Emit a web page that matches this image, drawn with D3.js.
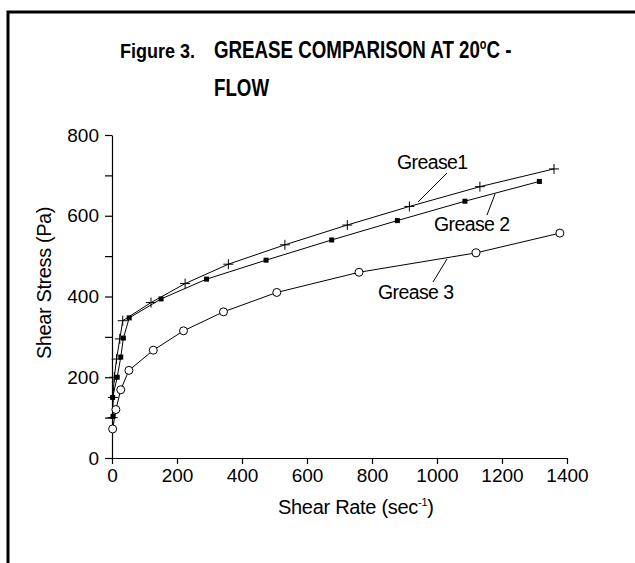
<!DOCTYPE html>
<html>
<head>
<meta charset="utf-8">
<script src="https://cdn.jsdelivr.net/npm/d3@7"></script>
<style>
  body { margin: 0; background: #fff; }
  text { font-family: Arial, "Liberation Sans", sans-serif; fill: #000; }
</style>
</head>
<body>
<div id="chart"></div>
<script>
// Shear rate (sec^-1) / shear stress (Pa)
const grease1Rate   = [2, 3, 7, 14, 24, 33, 120, 225, 358, 532, 724, 915, 1132, 1360];
const grease1Stress = [100, 150, 200, 245, 295, 340, 385, 432, 480, 528, 577, 623, 672, 716];
const grease2Rate   = [3, 2, 16, 27, 35, 53, 151, 291, 474, 676, 878, 1086, 1315];
const grease2Stress = [103, 150, 200, 250, 297, 347, 394, 443, 490, 540, 588, 636, 685];
const grease3Rate   = [2, 12, 27, 52, 127, 220, 343, 507, 760, 1120, 1378];
const grease3Stress = [72, 120, 169, 217, 267, 315, 362, 410, 460, 508, 557];

const xTicks = [0, 200, 400, 600, 800, 1000, 1200, 1400];
const yTicks = [0, 100, 200, 300, 400, 500, 600, 700, 800];
const yLabels = [0, 200, 400, 600, 800];

const W = 635, H = 563;
const svg = d3.select('#chart').append('svg')
    .attr('width', W)
    .attr('height', H);

// frame (only top and left edges are visible)
svg.append('path')
    .attr('d', `M8,${H} V12 H${W}`)
    .attr('fill', 'none')
    .attr('stroke', '#000')
    .attr('stroke-width', 3);

const x = d3.scaleLinear().domain([0, 1400]).range([112, 567]);
const y = d3.scaleLinear().domain([0, 800]).range([458, 135]);

// title - the original uses a condensed bold face, so squeeze it horizontally
svg.append('text')
    .attr('transform', 'translate(120,58) scale(0.9,1)')
    .style('font-weight', 'bold')
    .style('font-size', '20px')
    .text('Figure 3.');
const title = svg.append('text')
    .attr('transform', 'translate(214,58) scale(0.78,1)')
    .style('font-weight', 'bold')
    .style('font-size', '24px');
title.append('tspan').text('GREASE COMPARISON AT 20');
title.append('tspan')
    .style('font-size', '14px')
    .attr('dy', -9)
    .text('o');
title.append('tspan')
    .attr('dy', 9)
    .text('C -');
svg.append('text')
    .attr('transform', 'translate(214,96) scale(0.78,1)')
    .style('font-weight', 'bold')
    .style('font-size', '24px')
    .text('FLOW');

// axes
const xAxis = svg.append('g')
    .attr('transform', `translate(0,${y(0)})`)
    .call(d3.axisBottom(x).tickValues(xTicks).tickSize(6).tickPadding(5).tickSizeOuter(0)
        .tickFormat(d3.format('d')));
const yAxis = svg.append('g')
    .attr('transform', `translate(${x(0)},0)`)
    .call(d3.axisLeft(y).tickValues(yTicks).tickSize(7).tickPadding(6).tickSizeOuter(0)
        .tickFormat(d => yLabels.includes(d) ? d : ''));
[xAxis, yAxis].forEach(a => {
    a.select('.domain').attr('stroke', '#000').attr('stroke-width', 1.2);
    a.selectAll('.tick line').attr('stroke', '#000').attr('stroke-width', 1.2);
    a.selectAll('.tick text')
        .style('font-size', '19px')
        .style('font-family', 'Arial, "Liberation Sans", sans-serif')
        .attr('fill', '#000');
});

// axis titles
const xTitle = svg.append('text')
    .attr('x', 278)
    .attr('y', 514)
    .style('font-size', '20px')
    .style('letter-spacing', '-0.3px');
xTitle.append('tspan').text('Shear Rate (sec');
xTitle.append('tspan').attr('dy', -8).style('font-size', '11px').text('-1');
xTitle.append('tspan').attr('dy', 8).text(')');

svg.append('text')
    .attr('transform', 'translate(51,283) rotate(-90)')
    .attr('text-anchor', 'middle')
    .style('font-size', '20px')
    .style('letter-spacing', '-0.4px')
    .text('Shear Stress (Pa)');

// series
const series = [
    { rate: grease1Rate, stress: grease1Stress, marker: 'plus' },
    { rate: grease2Rate, stress: grease2Stress, marker: 'square' },
    { rate: grease3Rate, stress: grease3Stress, marker: 'circle' }
];

const line = d3.line()
    .x(d => x(d[0]))
    .y(d => y(d[1]));

series.forEach(s => {
    const pts = s.rate.map((r, i) => [r, s.stress[i]]);
    svg.append('path')
        .datum(pts)
        .attr('d', line)
        .attr('fill', 'none')
        .attr('stroke', '#000')
        .attr('stroke-width', 1);

    const g = svg.append('g');
    if (s.marker === 'plus') {
        g.selectAll('path')
            .data(pts)
            .join('path')
            .attr('d', d => {
                const cx = x(d[0]), cy = y(d[1]);
                return `M${cx - 5},${cy}H${cx + 5}M${cx},${cy - 5}V${cy + 5}`;
            })
            .attr('stroke', '#000')
            .attr('stroke-width', 1);
    } else if (s.marker === 'square') {
        g.selectAll('rect')
            .data(pts)
            .join('rect')
            .attr('x', d => x(d[0]) - 2.5)
            .attr('y', d => y(d[1]) - 2.5)
            .attr('width', 5)
            .attr('height', 5)
            .attr('fill', '#000');
    } else {
        g.selectAll('circle')
            .data(pts)
            .join('circle')
            .attr('cx', d => x(d[0]))
            .attr('cy', d => y(d[1]))
            .attr('r', 4)
            .attr('fill', '#fff')
            .attr('stroke', '#000')
            .attr('stroke-width', 1);
    }
});

// series labels with leader lines
const labels = [
    { text: 'Grease1', x: 397, y: 169, lx1: 447, ly1: 173, lx2: 418, ly2: 202 },
    { text: 'Grease 2', x: 434, y: 231, lx1: 495, ly1: 194, lx2: 487, ly2: 215 },
    { text: 'Grease 3', x: 378, y: 299, lx1: 447, ly1: 259, lx2: 433, ly2: 282 }
];
labels.forEach(l => {
    svg.append('line')
        .attr('x1', l.lx1).attr('y1', l.ly1)
        .attr('x2', l.lx2).attr('y2', l.ly2)
        .attr('stroke', '#000')
        .attr('stroke-width', 1);
    svg.append('text')
        .attr('x', l.x)
        .attr('y', l.y)
        .style('font-size', '19.5px')
        .style('letter-spacing', '-0.6px')
        .text(l.text);
});
</script>
</body>
</html>
